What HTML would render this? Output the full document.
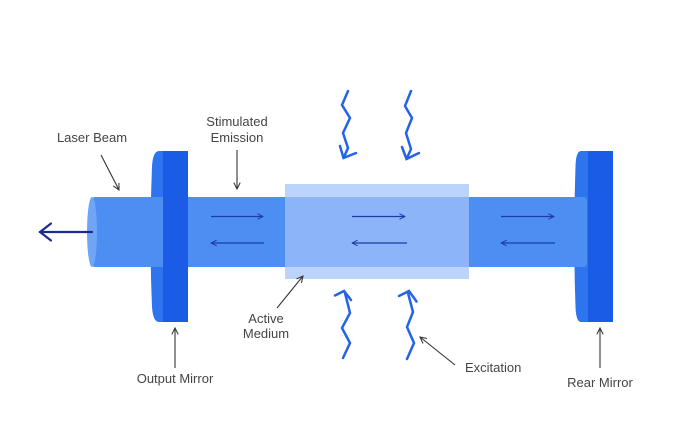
<!DOCTYPE html>
<html>
<head>
<meta charset="utf-8">
<style>
  html,body{margin:0;padding:0;background:#fff;}
  svg{display:block;}
  text{font-family:"Liberation Sans",sans-serif;font-size:13px;fill:#444;}
</style>
</head>
<body>
<svg width="678" height="432" viewBox="0 0 678 432" xmlns="http://www.w3.org/2000/svg">
  <defs>
    <marker id="blk" viewBox="0 0 10 10" refX="9" refY="5" markerWidth="8" markerHeight="8" orient="auto" markerUnits="userSpaceOnUse">
      <path d="M1,1 L9,5 L1,9" fill="none" stroke="#333" stroke-width="1.3"/>
    </marker>
    <marker id="nav" viewBox="0 0 10 10" refX="9" refY="5" markerWidth="7" markerHeight="7" orient="auto" markerUnits="userSpaceOnUse">
      <path d="M1,1 L9,5 L1,9" fill="none" stroke="#1e3aa8" stroke-width="1.4"/>
    </marker>
  </defs>

  <!-- mirror curved faces -->
  <path d="M164,151 L159,151 Q153,151 152,166 Q149,236 152,307 Q153,322 159,322 L164,322 Z" fill="#2d74ee"/>
  <path d="M590,151 L581,151 Q576,151 575.5,166 Q573,236 575.5,307 Q576,322 581,322 L590,322 Z" fill="#2d74ee"/>

  <!-- beam -->
  <rect x="92" y="197" width="495" height="70" rx="3" fill="#4d8ef3"/>
  <ellipse cx="92" cy="232" rx="5" ry="35" fill="#70a5f6"/>

  <!-- mirror dark plates -->
  <rect x="163" y="151" width="25" height="171" fill="#1b5ce6"/>
  <rect x="588" y="151" width="25" height="171" fill="#1b5ce6"/>

  <!-- active medium -->
  <rect x="285" y="184" width="184" height="95" fill="#bcd3fb"/>
  <rect x="285" y="197" width="184" height="70" fill="#8cb5f9"/>

  <!-- inner arrows -->
  <g stroke="#1e3aa8" stroke-width="1.3" fill="none">
    <line x1="211" y1="216.5" x2="263" y2="216.5" marker-end="url(#nav)"/>
    <line x1="264" y1="243" x2="211" y2="243" marker-end="url(#nav)"/>
    <line x1="352" y1="216.5" x2="405" y2="216.5" marker-end="url(#nav)"/>
    <line x1="407" y1="243" x2="352" y2="243" marker-end="url(#nav)"/>
    <line x1="501" y1="216.5" x2="554" y2="216.5" marker-end="url(#nav)"/>
    <line x1="555" y1="243" x2="501" y2="243" marker-end="url(#nav)"/>
  </g>

  <!-- output arrow -->
  <g stroke="#1b2a95" stroke-width="2.2" fill="none" stroke-linecap="round">
    <line x1="92" y1="232" x2="40" y2="232"/>
    <polyline points="51,223.5 40,232 51,240.5"/>
  </g>

  <!-- excitation zigzags -->
  <g stroke="#2563e6" stroke-width="2.5" fill="none" stroke-linejoin="miter" stroke-linecap="round">
    <polyline points="348,91 342,105 350,118 343,133 348,148 344,157"/>
    <polyline points="340,146 343.5,158 356,153"/>
    <polyline points="411,91 405,106 412,118 406,133 411,149 407,158"/>
    <polyline points="402,147 406.5,159 419,153"/>

    <polyline points="345,293 350,313 342,328 350,343 343,358"/>
    <polyline points="335,295.5 344,291 351,300"/>
    <polyline points="408,293 413,312 407,327 414,343 407,359"/>
    <polyline points="399,296 409,291 416.5,301.5"/>
  </g>

  <!-- callout arrows -->
  <g stroke="#333" stroke-width="1.1" fill="none">
    <line x1="101" y1="155" x2="119" y2="190" marker-end="url(#blk)"/>
    <line x1="237" y1="150" x2="237" y2="189" marker-end="url(#blk)"/>
    <line x1="277" y1="308" x2="303" y2="276" marker-end="url(#blk)"/>
    <line x1="175" y1="368" x2="175" y2="328" marker-end="url(#blk)"/>
    <line x1="455" y1="365" x2="420" y2="337" marker-end="url(#blk)"/>
    <line x1="600" y1="368" x2="600" y2="328" marker-end="url(#blk)"/>
  </g>

  <!-- labels -->
  <text x="92" y="142" text-anchor="middle">Laser Beam</text>
  <text x="237" y="126" text-anchor="middle">Stimulated</text>
  <text x="237" y="142" text-anchor="middle">Emission</text>
  <text x="266" y="323" text-anchor="middle">Active</text>
  <text x="266" y="338" text-anchor="middle">Medium</text>
  <text x="175" y="383" text-anchor="middle">Output Mirror</text>
  <text x="465" y="372">Excitation</text>
  <text x="600" y="387" text-anchor="middle">Rear Mirror</text>
</svg>
</body>
</html>
